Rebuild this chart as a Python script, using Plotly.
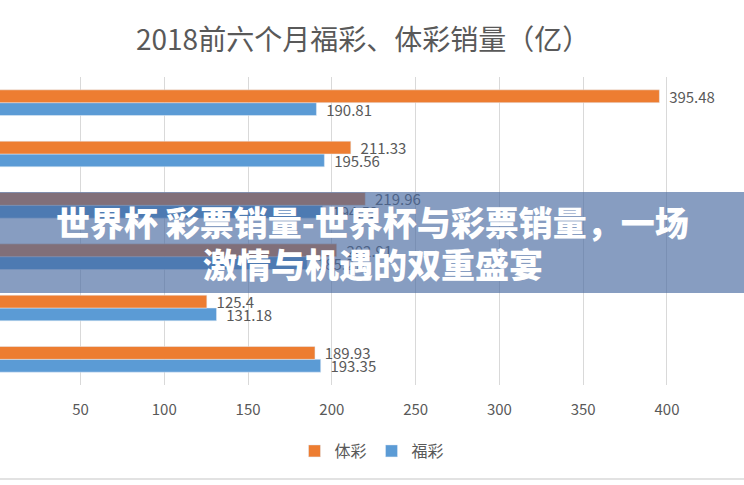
import plotly.graph_objects as go

# ---- data (bottom category first, as in the source bar chart) ----
months = ["1月", "2月", "3月", "4月", "5月", "6月"]
ticai = [189.93, 125.4, 202.91, 219.96, 211.33, 395.48]   # 体彩
fucai = [193.35, 131.18, 185.27, 194.52, 195.56, 190.81]  # 福彩
x_ticks = [0, 50, 100, 150, 200, 250, 300, 350, 400, 450]

title_text = "2018前六个月福彩、体彩销量（亿）"
banner_line1 = "世界杯 彩票销量-世界杯与彩票销量，一场"
banner_line2 = "激情与机遇的双重盛宴"

W, H = 744, 485
PLOT_TOP, PLOT_BOTTOM = 77, 385
FONT = "Noto Sans CJK SC"
GREY = "#595959"


def py(pix):
    """pixel y (from top) -> paper y"""
    return (PLOT_BOTTOM - pix) / (PLOT_BOTTOM - PLOT_TOP)


label_font = dict(family=FONT, size=15, color=GREY)

fig = go.Figure()
fig.add_trace(go.Bar(
    y=months, x=fucai, name="福彩", orientation="h",
    marker_color="#5B9BD5", text=[str(v) for v in fucai],
    texttemplate="  %{text}",
    textposition="outside", constraintext="none", cliponaxis=False,
    textfont=label_font, legendrank=2,
))
fig.add_trace(go.Bar(
    y=months, x=ticai, name="体彩", orientation="h",
    marker_color="#ED7D31", text=[str(v) for v in ticai],
    texttemplate="  %{text}",
    textposition="outside", constraintext="none", cliponaxis=False,
    textfont=label_font, legendrank=1,
))

fig.update_layout(
    width=W, height=H,
    margin=dict(l=0, r=0, t=PLOT_TOP, b=H - PLOT_BOTTOM, pad=0),
    paper_bgcolor="white", plot_bgcolor="white",
    barmode="group", bargap=0.5, bargroupgap=0,
    font=dict(family=FONT, color=GREY),
    showlegend=True,
    legend=dict(orientation="h", x=0.5, xanchor="center",
                y=py(451), yanchor="middle", itemwidth=30,
                font=dict(family=FONT, size=16, color=GREY),
                bgcolor="rgba(0,0,0,0)"),
    xaxis=dict(range=[1.97, 445.96], tickvals=x_ticks,
               showgrid=True, gridcolor="#d9d9d9", gridwidth=1,
               zeroline=False, showline=False, ticks="",
               tickfont=dict(family=FONT, size=15, color=GREY),
               ticklabelstandoff=14),
    yaxis=dict(categoryorder="array", categoryarray=months,
               showticklabels=False, showgrid=False, zeroline=False,
               showline=False, ticks=""),
)

# chart title
fig.add_annotation(text=title_text, xref="paper", yref="paper",
                   x=363 / W, y=py(38), xanchor="center", yanchor="middle",
                   showarrow=False,
                   font=dict(family=FONT, size=28, color=GREY))

# faint border at the bottom of the screenshot
fig.add_shape(type="line", xref="paper", yref="paper",
              x0=0, x1=1, y0=py(479), y1=py(479),
              line=dict(color="#e2e2e2", width=2), layer="above")

# translucent banner across the middle
fig.add_shape(type="rect", xref="paper", yref="paper",
              x0=0, x1=1, y0=py(293), y1=py(192),
              fillcolor="rgba(70,105,160,0.65)", line=dict(width=0),
              layer="above")
banner_font = dict(family=FONT, size=34, color="white", weight=900)
fig.add_annotation(text=banner_line1, xref="paper", yref="paper",
                   x=372 / W, y=py(221), xanchor="center", yanchor="middle",
                   showarrow=False, font=banner_font)
fig.add_annotation(text=banner_line2, xref="paper", yref="paper",
                   x=373 / W, y=py(263), xanchor="center", yanchor="middle",
                   showarrow=False, font=banner_font)

fig.write_html("out.html", config={"displayModeBar": False})
